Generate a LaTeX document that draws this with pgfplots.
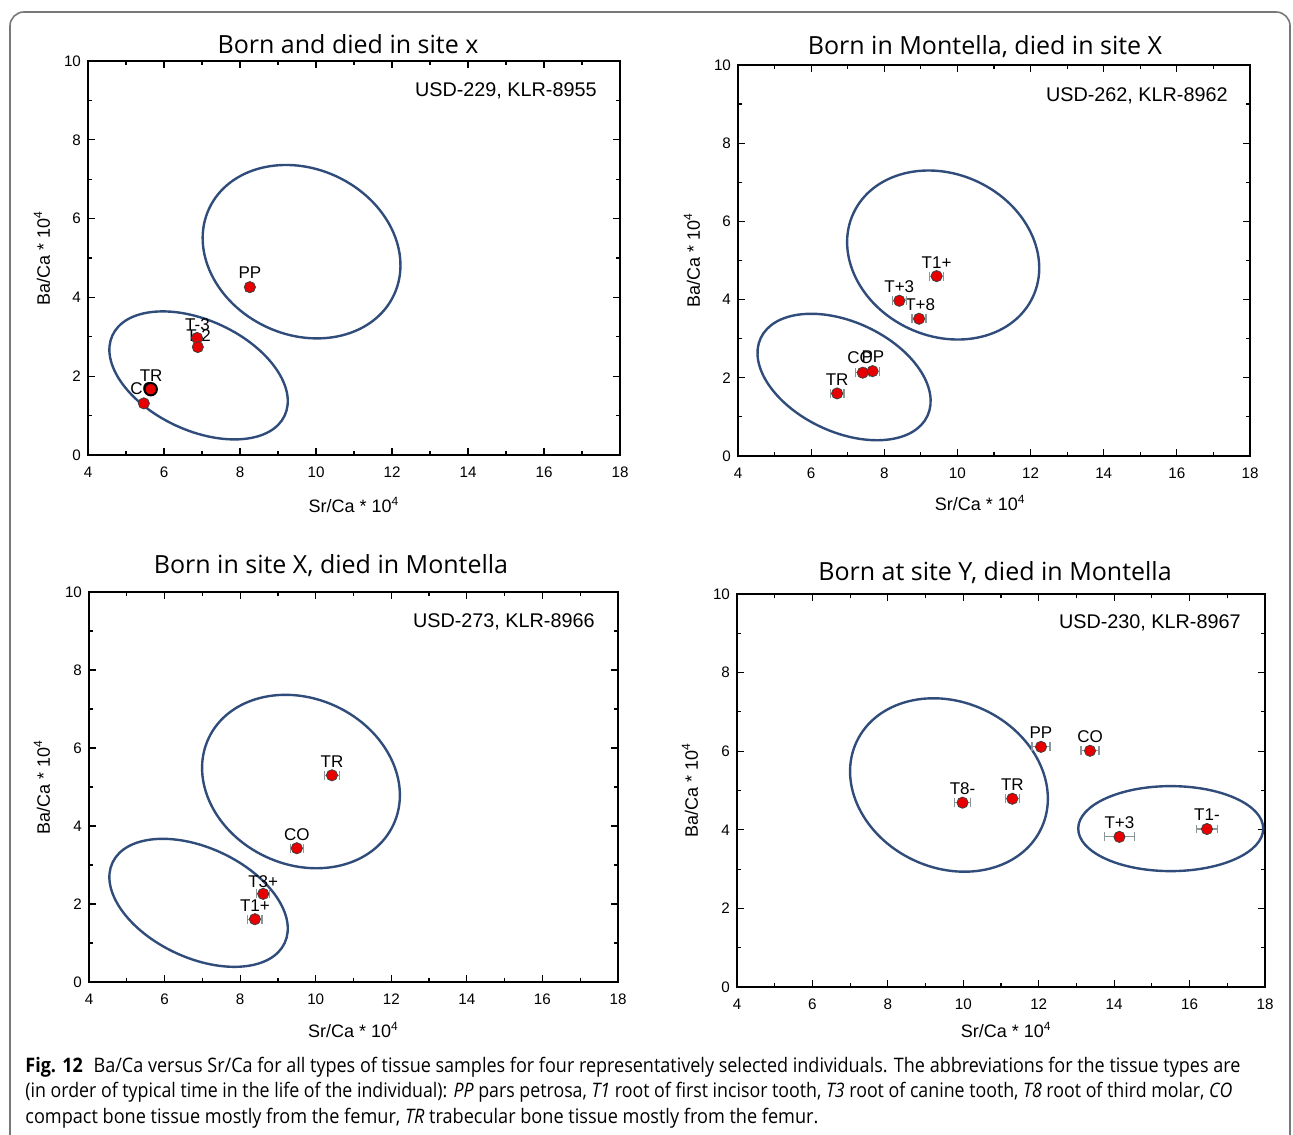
\documentclass[border=0pt]{standalone}
\usepackage{pgfplots}
\pgfplotsset{compat=1.18}
\usepackage{pgfplotstable}
\usepackage{graphicx}
\usepackage{fontspec}
\setmainfont{Liberation Sans}
\newfontfamily\titlefont{Open Sans}
\definecolor{ellcol}{RGB}{47,76,122}
\definecolor{ptred}{RGB}{232,0,0}
\definecolor{errcol}{RGB}{140,150,150}
\definecolor{framecol}{RGB}{120,120,120}

\pgfplotstableread{
x y ex
8.26 4.26 0.10
6.87 2.97 0.0
6.89 2.74 0.0
5.47 1.31 0.0
}\dataA
\pgfplotstableread{
x y ex
5.65 1.67 0.0
}\dataAtr
\pgfplotstableread{
x y ex
9.43 4.60 0.19
8.41 3.97 0.19
8.95 3.51 0.19
7.41 2.13 0.19
7.68 2.17 0.19
6.71 1.60 0.19
}\dataB
\pgfplotstableread{
x y ex
10.43 5.30 0.19
9.50 3.43 0.17
8.61 2.26 0.17
8.39 1.61 0.19
}\dataC
\pgfplotstableread{
x y ex
12.06 6.11 0.24
13.36 6.01 0.24
9.98 4.69 0.21
11.30 4.79 0.19
14.14 3.82 0.40
16.46 4.02 0.28
}\dataD

\tikzset{
  lbl/.style={font=\fontsize{8.5}{9}\selectfont, inner sep=0pt},
  ann/.style={font=\fontsize{9.9}{12}\selectfont, anchor=east, inner sep=0pt},
  ell/.style={ellcol, line width=1.2pt},
  ttl/.style={font=\titlefont\fontsize{12.5}{15}\selectfont},
}
\pgfplotsset{
  panel/.style={
    scale only axis,
    xmin=4, xmax=18, ymin=0, ymax=10,
    xtick={4,6,...,18}, ytick={0,2,...,10},
    minor xtick={5,7,...,17}, minor ytick={1,3,...,9},
    tick align=inside,
    major tick length=3.5pt, minor tick length=2pt,
    axis line style={line width=0.8pt},
    every tick/.style={line width=0.6pt, black},
    /pgf/number format/assume math mode=true,
    tick label style={font=\fontsize{7.6}{9}\selectfont},
    xticklabel style={yshift=-2.5pt},
    label style={font=\fontsize{9}{10}\selectfont},
    xlabel={Sr/Ca * 10\textsuperscript{4}},
    ylabel={Ba/Ca * 10\textsuperscript{4}},
    clip=false,
  },
  pts/.style={only marks, mark=*, mark size=2.8pt,
    mark options={fill=ptred, draw=black!75, line width=0.4pt},
    error bars/x dir=both, error bars/x explicit,
    error bars/error mark=|,
    error bars/error bar style={errcol, line width=0.6pt},
    error bars/error mark options={errcol, mark size=2.2pt, line width=0.6pt}},
}

\begin{document}
\begin{tikzpicture}
\useasboundingbox (0pt,0pt) rectangle (646.5pt,567pt);
\draw[framecol, line width=0.8pt, rounded corners=7pt] (5pt,-20pt) -- (5pt,561pt) -- (645pt,561pt) -- (645pt,-20pt);

% Panel 1
\begin{axis}[panel, at={(44pt,339.5pt)}, anchor=south west, width=266pt, height=197pt,
  xlabel style={at={(axis description cs:0.5,0)}, anchor=center, yshift=-25pt},
  ylabel style={at={(axis description cs:0,0.5)}, anchor=center, yshift=23pt}]
\draw[ell, rotate around={-25:(axis cs:9.62,5.16)}] (axis cs:9.62,5.16) ellipse [x radius=51pt, y radius=41.5pt];
\draw[ell, rotate around={-25:(axis cs:6.91,2.02)}] (axis cs:6.91,2.02) ellipse [x radius=47.5pt, y radius=27.5pt];
\node[lbl] at (axis cs:8.26,4.62) {PP};
\node[lbl] at (axis cs:6.88,3.32) {T-3};
\node[lbl] at (axis cs:6.91,3.03) {T-2};
\node[lbl] at (axis cs:5.66,2.01) {TR};
\node[lbl] at (axis cs:5.45,1.68) {CO};
\node[ann] at (axis description cs:1,1) [xshift=-11.5pt, yshift=-15pt] {USD-229, KLR-8955};
\addplot[pts] table[x=x, y=y, x error=ex] {\dataA};
\addplot[pts, mark size=3.1pt, mark options={fill=ptred, draw=black, line width=1pt}] table[x=x, y=y, x error=ex] {\dataAtr};
\end{axis}

% Panel 2
\begin{axis}[panel, at={(369pt,339pt)}, anchor=south west, width=256pt, height=195.5pt,
  xlabel style={at={(axis description cs:0.473,0)}, anchor=center, yshift=-23.5pt},
  ylabel style={at={(axis description cs:0,0.5)}, anchor=center, yshift=23pt}]
\draw[ell, rotate around={-25:(axis cs:9.61,5.14)}] (axis cs:9.61,5.14) ellipse [x radius=49.5pt, y radius=40.5pt];
\draw[ell, rotate around={-25:(axis cs:6.90,2.02)}] (axis cs:6.90,2.02) ellipse [x radius=46pt, y radius=27.5pt];
\node[lbl] at (axis cs:9.43,4.94) {T1+};
\node[lbl] at (axis cs:8.41,4.32) {T+3};
\node[lbl] at (axis cs:8.98,3.86) {T+8};
\node[lbl] at (axis cs:7.34,2.51) {CO};
\node[lbl] at (axis cs:7.69,2.54) {PP};
\node[lbl] at (axis cs:6.71,1.94) {TR};
\node[ann] at (axis description cs:1,1) [xshift=-11pt, yshift=-15.5pt] {USD-262, KLR-8962};
\addplot[pts] table[x=x, y=y, x error=ex] {\dataB};
\end{axis}

% Panel 3
\begin{axis}[panel, at={(44.5pt,76pt)}, anchor=south west, width=264.5pt, height=195pt,
  xlabel style={at={(axis description cs:0.5,0)}, anchor=center, yshift=-24pt},
  ylabel style={at={(axis description cs:0,0.5)}, anchor=center, yshift=23.5pt}]
\draw[ell, rotate around={-25:(axis cs:9.61,5.14)}] (axis cs:9.61,5.14) ellipse [x radius=51pt, y radius=41.5pt];
\draw[ell, rotate around={-25:(axis cs:6.90,2.03)}] (axis cs:6.90,2.03) ellipse [x radius=47.5pt, y radius=27.5pt];
\node[lbl] at (axis cs:10.43,5.64) {TR};
\node[lbl] at (axis cs:9.50,3.77) {CO};
\node[lbl] at (axis cs:8.61,2.57) {T3+};
\node[lbl] at (axis cs:8.39,1.97) {T1+};
\node[ann] at (axis description cs:1,1) [xshift=-11.5pt, yshift=-15pt] {USD-273, KLR-8966};
\addplot[pts] table[x=x, y=y, x error=ex] {\dataC};
\end{axis}

% Panel 4
\begin{axis}[panel, at={(368.5pt,73.5pt)}, anchor=south west, width=264pt, height=196.5pt,
  xlabel style={at={(axis description cs:0.51,0)}, anchor=center, yshift=-21.5pt},
  ylabel style={at={(axis description cs:0,0.5)}, anchor=center, yshift=23.5pt}]
\draw[ell, rotate around={-25:(axis cs:9.62,5.14)}] (axis cs:9.62,5.14) ellipse [x radius=51pt, y radius=41.5pt];
\draw[ell] (axis cs:15.5,4.03) ellipse [x radius=46.25pt, y radius=21.25pt];
\node[lbl] at (axis cs:12.06,6.47) {PP};
\node[lbl] at (axis cs:13.36,6.37) {CO};
\node[lbl] at (axis cs:9.98,5.04) {T8-};
\node[lbl] at (axis cs:11.30,5.14) {TR};
\node[lbl] at (axis cs:14.14,4.18) {T+3};
\node[lbl] at (axis cs:16.46,4.38) {T1-};
\node[ann] at (axis description cs:1,1) [xshift=-12pt, yshift=-14.5pt] {USD-230, KLR-8967};
\addplot[pts] table[x=x, y=y, x error=ex] {\dataD};
\end{axis}

% Titles
\node[ttl] at (174pt,545pt) {Born and died in site x};
\node[ttl] at (492.5pt,543.5pt) {Born in Montella, died in site X};
\node[ttl] at (165.5pt,284pt) {Born in site X, died in Montella};
\node[ttl] at (497.5pt,280.5pt) {Born at site Y, died in Montella};

% Caption
\begin{scope}[every node/.style={anchor=base west, inner sep=0pt, font=\titlefont\fontsize{10}{12}\selectfont}]
\node at (12.5pt,31pt) {\resizebox{607.5pt}{\height}{\textbf{Fig. 12}\hspace{0.6em}Ba/Ca versus Sr/Ca for all types of tissue samples for four representatively selected individuals. The abbreviations for the tissue types are}};
\node at (12.5pt,18.25pt) {\resizebox{603.5pt}{\height}{(in order of typical time in the life of the individual): \textit{PP} pars petrosa, \textit{T1} root of first incisor tooth, \textit{T3} root of canine tooth, \textit{T8} root of third molar, \textit{CO}}};
\node at (12.5pt,5.5pt) {\resizebox{396.5pt}{\height}{compact bone tissue mostly from the femur, \textit{TR} trabecular bone tissue mostly from the femur.}};
\end{scope}
\end{tikzpicture}
\end{document}
